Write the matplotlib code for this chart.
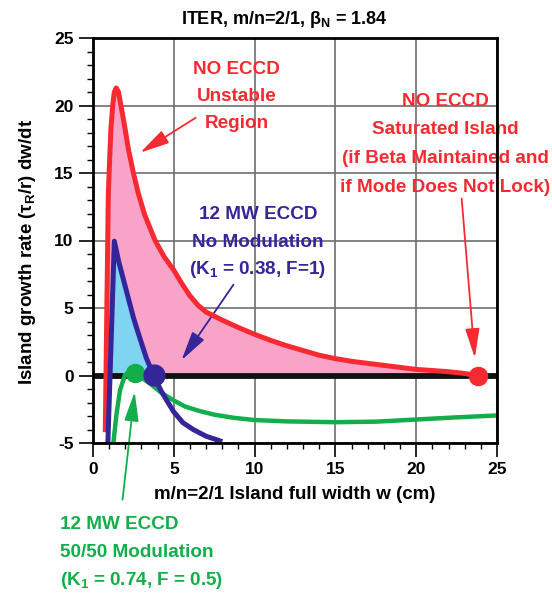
import numpy as np
import matplotlib
matplotlib.use('Agg')
import matplotlib.pyplot as plt

plt.rcParams['font.family'] = ['Liberation Sans Narrow', 'Liberation Sans', 'DejaVu Sans']
plt.rcParams['font.weight'] = 'bold'
plt.rcParams['axes.labelweight'] = 'bold'
plt.rcParams['axes.unicode_minus'] = False

# Island growth rate vs island width, ITER 2/1 mode
red_w = [0.76, 0.85, 0.95, 1.0, 1.11, 1.22, 1.32, 1.44, 1.58, 1.73, 1.98, 2.2, 2.5, 2.8,
         3.2, 3.84, 4.4, 5.0, 5.5, 6.0, 6.5, 7.0, 8.0, 9.0, 10, 11, 12, 13, 14, 15, 16,
         17, 18, 19, 20, 21, 22, 23, 23.8]
red_rate = [-4.2, 4.4, 13.5, 15.1, 18.3, 20.0, 21.0, 21.3, 21.0, 20.0, 18.3, 16.7, 15.0, 13.5,
            11.9, 10.0, 8.8, 7.8, 6.8, 5.9, 5.2, 4.7, 4.1, 3.55, 3.05, 2.6, 2.2, 1.85, 1.5, 1.25, 1.05,
            0.9, 0.75, 0.6, 0.45, 0.37, 0.28, 0.15, 0.0]

blue_w = [0.92, 1.32, 1.6, 2.06, 2.5, 2.68, 3.0, 3.3, 3.75, 4.2, 4.54, 5.0, 5.57,
          6.2, 7.0, 8.0]
blue_rate = [-5.0, 9.95, 8.4, 6.3, 4.3, 3.6, 2.4, 1.3, 0.0, -1.1, -1.8, -2.7, -3.5,
             -4.0, -4.5, -4.9]

green_w = [1.26, 1.45, 1.67, 1.98, 2.3, 2.6, 3.0, 3.53, 4.25, 5.0, 5.7, 6.62, 7.5, 8.68,
           10, 12, 15, 17.5, 20, 22.5, 25]
green_rate = [-5.0, -2.9, -1.1, 0.05, 0.3, 0.25, -0.15, -0.6, -1.3, -1.85, -2.3, -2.64, -2.9, -3.13,
              -3.3, -3.4, -3.46, -3.42, -3.26, -3.1, -2.96]

# marginal / saturated island points (w, rate)
red_dot = (23.8, 0.0)
blue_dot = (3.75, 0.05)
green_dot = (2.6, 0.2)

RED = '#f62a30'
PINK = '#f9a3c9'
BLUE = '#35259a'
SKY = '#7fd4f2'
GREEN = '#12ae4b'

fig = plt.figure(figsize=(5.52, 5.93), dpi=100)
ax = fig.add_axes([93/552, 1 - 443/593, 404/552, 405/593])

red_arr = np.array(red_rate)
blue_arr = np.array(blue_rate)
ax.fill_between(red_w, red_arr, 0, where=red_arr >= 0, interpolate=True,
                color=PINK, lw=0, zorder=1)
ax.fill_between(blue_w, blue_arr, 0, where=blue_arr >= 0, interpolate=True,
                color=SKY, lw=0, zorder=2)

ax.axhline(0, color='#111111', lw=4.2, zorder=3)

ax.plot(red_w, red_rate, color=RED, lw=3.6, zorder=4, solid_capstyle='butt')
ax.plot(green_w, green_rate, color=GREEN, lw=3.2, zorder=4, solid_capstyle='butt')
ax.plot(blue_w, blue_rate, color=BLUE, lw=3.6, zorder=5, solid_capstyle='butt')

ax.plot(*red_dot, 'o', ms=13, color=RED, zorder=6)
ax.plot(*green_dot, 'o', ms=13, color=GREEN, zorder=6)
ax.plot(*blue_dot, 'o', ms=15, color=BLUE, zorder=7)

ax.set_xlim(0, 25)
ax.set_ylim(-5, 25)
ax.set_xticks(np.arange(0, 26, 5))
ax.set_yticks(np.arange(-5, 26, 5))
ax.set_xticks(np.arange(0, 26, 1), minor=True)
ax.set_yticks(np.arange(-5, 26, 1), minor=True)
ax.tick_params(which='major', direction='out', length=10, width=1.2, labelsize=12.5, pad=4)
ax.tick_params(which='minor', direction='out', length=4, width=1.0)
ax.grid(which='major', color='#6e6e6e', lw=1.2, zorder=0)
ax.set_axisbelow(True)
for s in ax.spines.values():
    s.set_linewidth(2)
    s.set_zorder(8)

ax.set_xlabel('m/n=2/1 Island full width w (cm)', fontsize=13.5, labelpad=6)
fig.text(28/552, 1 - 252/593, r'Island growth rate (τ$\mathregular{_R}$/r) dw/dt',
         rotation=90, ha='center', va='center', fontsize=13.5)
fig.text(0.515, 1 - 19/593, r'ITER, m/n=2/1, β$\mathregular{_N}$ = 1.84',
         ha='center', va='center', fontsize=13)

arrow = '-|>,head_length=0.9,head_width=0.22'
fs = 13.6


def label_block(x, y, lines, color, step, ha='center'):
    # one text per line so the subscripts don't stretch the spacing
    for i, line in enumerate(lines):
        ax.annotate(line, (x, y), xytext=(0, -i * step * 0.72), textcoords='offset points',
                    color=color, fontsize=fs, ha=ha, va='baseline', annotation_clip=False)


# annotations
label_block(8.9, 22.37, ['NO ECCD', 'Unstable', 'Region'], RED, 27)
ax.annotate('', xy=(2.78, 16.4), xytext=(6.5, 19.2),
            arrowprops=dict(arrowstyle=arrow, color=RED, lw=1.3, mutation_scale=20))

label_block(21.8, 20.0, ['NO ECCD', 'Saturated Island', '(if Beta Maintained and',
                         'if Mode Does Not Lock)'], RED, 28.7)
ax.annotate('', xy=(23.64, 1.1), xytext=(22.8, 13.3),
            arrowprops=dict(arrowstyle=arrow, color=RED, lw=1.3, mutation_scale=20))

label_block(10.2, 11.56, ['12 MW ECCD', 'No Modulation', '(K$\\mathregular{_1}$ = 0.38, F=1)'],
            BLUE, 27.5)
ax.annotate('', xy=(5.38, 0.96), xytext=(8.79, 6.9),
            arrowprops=dict(arrowstyle=arrow, color=BLUE, lw=1.3, mutation_scale=20))

label_block(-2.04, -11.4, ['12 MW ECCD', '50/50 Modulation', '(K$\\mathregular{_1}$ = 0.74, F = 0.5)'],
            GREEN, 27.8, ha='left')
ax.annotate('', xy=(2.6, -1.0), xytext=(1.81, -9.4),
            arrowprops=dict(arrowstyle=arrow, color=GREEN, lw=1.3, mutation_scale=20),
            annotation_clip=False)

fig.savefig('out.png', dpi=100)
